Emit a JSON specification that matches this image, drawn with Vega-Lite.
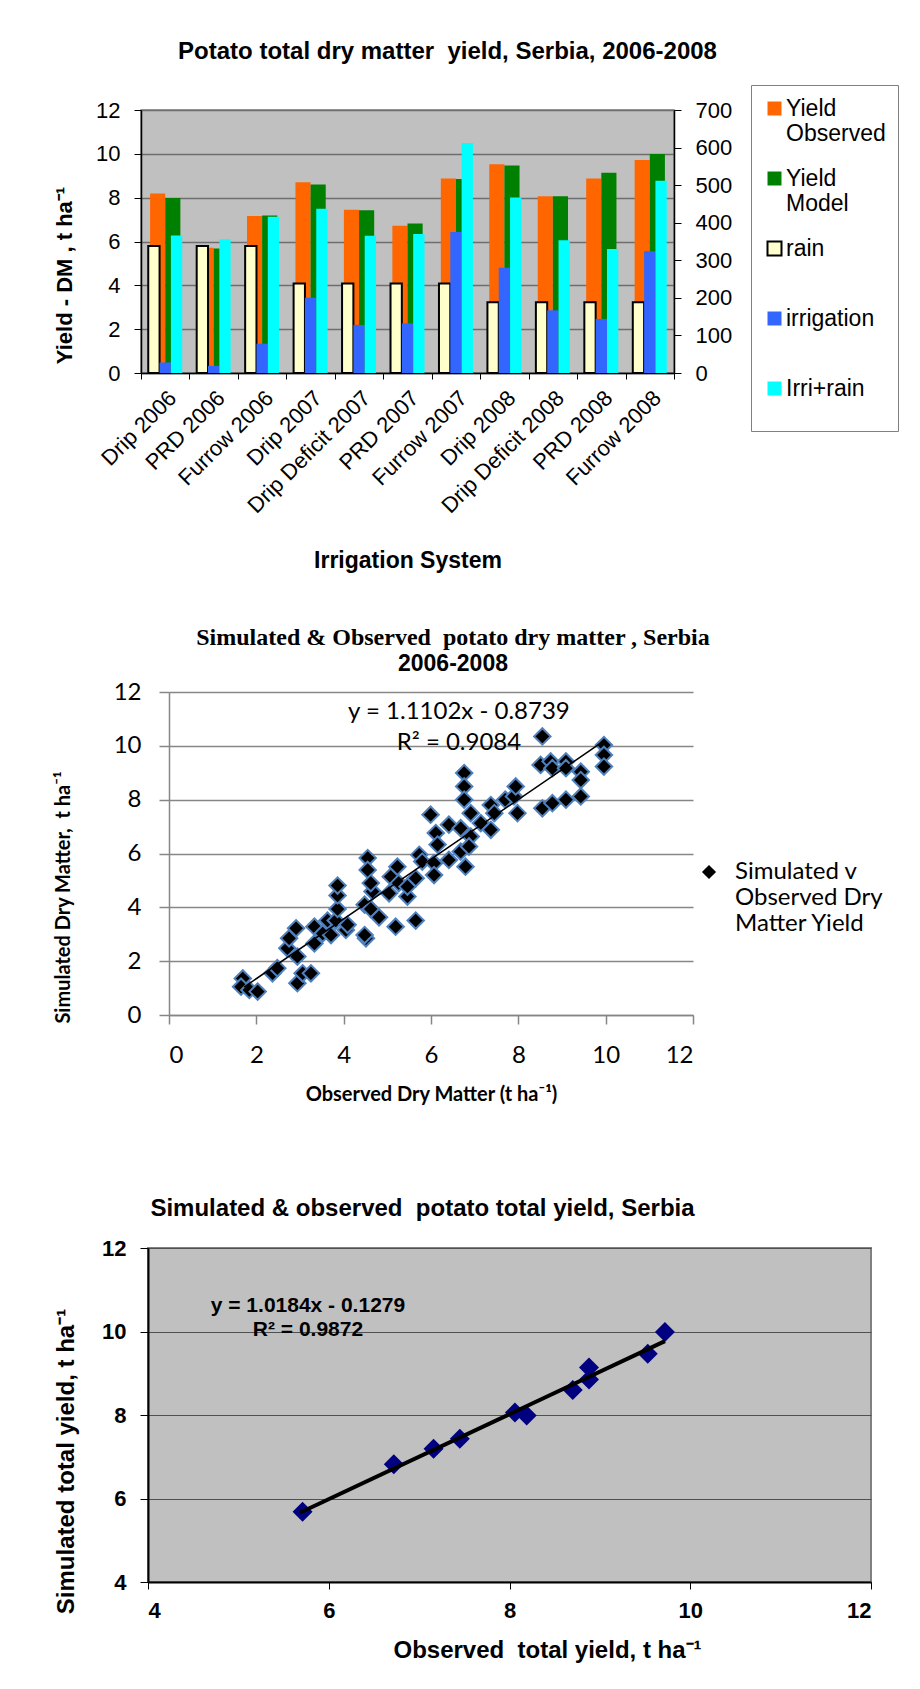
{
  "$schema": "https://vega.github.io/schema/vega-lite/v6.json",
  "background": "white",
  "padding": {"left": 51, "top": 38, "right": 0, "bottom": 0},
  "datasets": {
    "yield": [
      {"system": "Drip 2006", "series": "Yield Observed", "value": 8.19},
      {"system": "Drip 2006", "series": "Yield Model", "value": 7.99},
      {"system": "PRD 2006", "series": "Yield Observed", "value": 5.71},
      {"system": "PRD 2006", "series": "Yield Model", "value": 5.68},
      {"system": "Furrow 2006", "series": "Yield Observed", "value": 7.16},
      {"system": "Furrow 2006", "series": "Yield Model", "value": 7.19},
      {"system": "Drip 2007", "series": "Yield Observed", "value": 8.70},
      {"system": "Drip 2007", "series": "Yield Model", "value": 8.60},
      {"system": "Drip Deficit 2007", "series": "Yield Observed", "value": 7.45},
      {"system": "Drip Deficit 2007", "series": "Yield Model", "value": 7.43},
      {"system": "PRD 2007", "series": "Yield Observed", "value": 6.72},
      {"system": "PRD 2007", "series": "Yield Model", "value": 6.82},
      {"system": "Furrow 2007", "series": "Yield Observed", "value": 8.88},
      {"system": "Furrow 2007", "series": "Yield Model", "value": 8.85},
      {"system": "Drip 2008", "series": "Yield Observed", "value": 9.53},
      {"system": "Drip 2008", "series": "Yield Model", "value": 9.47},
      {"system": "Drip Deficit 2008", "series": "Yield Observed", "value": 8.06},
      {"system": "Drip Deficit 2008", "series": "Yield Model", "value": 8.06},
      {"system": "PRD 2008", "series": "Yield Observed", "value": 8.88},
      {"system": "PRD 2008", "series": "Yield Model", "value": 9.14},
      {"system": "Furrow 2008", "series": "Yield Observed", "value": 9.72},
      {"system": "Furrow 2008", "series": "Yield Model", "value": 9.99}
    ],
    "water": [
      {"system": "Drip 2006", "series": "rain", "value": 338},
      {"system": "Drip 2006", "series": "irrigation", "value": 28},
      {"system": "Drip 2006", "series": "Irri+rain", "value": 366},
      {"system": "PRD 2006", "series": "rain", "value": 338},
      {"system": "PRD 2006", "series": "irrigation", "value": 19},
      {"system": "PRD 2006", "series": "Irri+rain", "value": 356},
      {"system": "Furrow 2006", "series": "rain", "value": 338},
      {"system": "Furrow 2006", "series": "irrigation", "value": 78},
      {"system": "Furrow 2006", "series": "Irri+rain", "value": 416},
      {"system": "Drip 2007", "series": "rain", "value": 238},
      {"system": "Drip 2007", "series": "irrigation", "value": 200},
      {"system": "Drip 2007", "series": "Irri+rain", "value": 437},
      {"system": "Drip Deficit 2007", "series": "rain", "value": 238},
      {"system": "Drip Deficit 2007", "series": "irrigation", "value": 128},
      {"system": "Drip Deficit 2007", "series": "Irri+rain", "value": 365},
      {"system": "PRD 2007", "series": "rain", "value": 238},
      {"system": "PRD 2007", "series": "irrigation", "value": 132},
      {"system": "PRD 2007", "series": "Irri+rain", "value": 370},
      {"system": "Furrow 2007", "series": "rain", "value": 238},
      {"system": "Furrow 2007", "series": "irrigation", "value": 375},
      {"system": "Furrow 2007", "series": "Irri+rain", "value": 612},
      {"system": "Drip 2008", "series": "rain", "value": 188},
      {"system": "Drip 2008", "series": "irrigation", "value": 280},
      {"system": "Drip 2008", "series": "Irri+rain", "value": 467},
      {"system": "Drip Deficit 2008", "series": "rain", "value": 188},
      {"system": "Drip Deficit 2008", "series": "irrigation", "value": 167},
      {"system": "Drip Deficit 2008", "series": "Irri+rain", "value": 353},
      {"system": "PRD 2008", "series": "rain", "value": 188},
      {"system": "PRD 2008", "series": "irrigation", "value": 144},
      {"system": "PRD 2008", "series": "Irri+rain", "value": 330},
      {"system": "Furrow 2008", "series": "rain", "value": 188},
      {"system": "Furrow 2008", "series": "irrigation", "value": 324},
      {"system": "Furrow 2008", "series": "Irri+rain", "value": 512}
    ],
    "dm": [
      {"obs": 1.69, "sim": 1.36}, {"obs": 1.65, "sim": 1.05}, {"obs": 1.84, "sim": 0.93}, {"obs": 2.03, "sim": 0.87},
      {"obs": 2.37, "sim": 1.55}, {"obs": 2.48, "sim": 1.74}, {"obs": 2.71, "sim": 2.48}, {"obs": 2.75, "sim": 2.85},
      {"obs": 2.91, "sim": 3.22}, {"obs": 2.94, "sim": 2.17}, {"obs": 2.94, "sim": 1.18}, {"obs": 3.06, "sim": 1.55},
      {"obs": 3.25, "sim": 1.55}, {"obs": 3.33, "sim": 3.28}, {"obs": 3.33, "sim": 2.66}, {"obs": 3.52, "sim": 3.03},
      {"obs": 3.71, "sim": 2.97}, {"obs": 3.63, "sim": 3.51}, {"obs": 3.82, "sim": 3.51}, {"obs": 3.86, "sim": 3.94},
      {"obs": 3.86, "sim": 4.44}, {"obs": 3.86, "sim": 4.81}, {"obs": 4.05, "sim": 3.16}, {"obs": 4.09, "sim": 3.35},
      {"obs": 4.48, "sim": 4.10}, {"obs": 4.51, "sim": 2.85}, {"obs": 4.48, "sim": 2.97}, {"obs": 4.55, "sim": 5.83},
      {"obs": 4.55, "sim": 5.39}, {"obs": 4.66, "sim": 4.59}, {"obs": 4.62, "sim": 4.90}, {"obs": 4.62, "sim": 3.94},
      {"obs": 4.81, "sim": 3.63}, {"obs": 5.04, "sim": 4.52}, {"obs": 5.08, "sim": 5.14}, {"obs": 5.19, "sim": 3.28},
      {"obs": 5.23, "sim": 5.51}, {"obs": 5.26, "sim": 4.90}, {"obs": 5.46, "sim": 4.40}, {"obs": 5.46, "sim": 4.77},
      {"obs": 5.65, "sim": 5.08}, {"obs": 5.65, "sim": 3.51}, {"obs": 5.73, "sim": 5.95}, {"obs": 5.80, "sim": 5.70},
      {"obs": 5.99, "sim": 7.44}, {"obs": 6.07, "sim": 5.64}, {"obs": 6.07, "sim": 5.20}, {"obs": 6.11, "sim": 6.76},
      {"obs": 6.15, "sim": 6.33}, {"obs": 6.41, "sim": 7.07}, {"obs": 6.41, "sim": 5.76}, {"obs": 6.76, "sim": 8.99},
      {"obs": 6.76, "sim": 8.49}, {"obs": 6.76, "sim": 8.00}, {"obs": 6.68, "sim": 6.94}, {"obs": 6.68, "sim": 6.07},
      {"obs": 6.79, "sim": 5.51}, {"obs": 6.91, "sim": 7.50}, {"obs": 6.91, "sim": 6.63}, {"obs": 6.87, "sim": 6.26},
      {"obs": 7.14, "sim": 7.13}, {"obs": 7.37, "sim": 7.80}, {"obs": 7.37, "sim": 6.88}, {"obs": 7.45, "sim": 7.50},
      {"obs": 7.70, "sim": 8.00}, {"obs": 7.90, "sim": 8.12}, {"obs": 7.94, "sim": 8.49}, {"obs": 7.98, "sim": 7.50},
      {"obs": 8.55, "sim": 10.35}, {"obs": 8.51, "sim": 9.29}, {"obs": 8.74, "sim": 9.42}, {"obs": 8.78, "sim": 9.17},
      {"obs": 9.09, "sim": 9.42}, {"obs": 9.09, "sim": 9.17}, {"obs": 9.43, "sim": 9.04}, {"obs": 9.43, "sim": 8.73},
      {"obs": 8.55, "sim": 7.68}, {"obs": 8.78, "sim": 7.87}, {"obs": 9.09, "sim": 8.00}, {"obs": 9.43, "sim": 8.12},
      {"obs": 9.96, "sim": 10.03}, {"obs": 9.96, "sim": 9.66}, {"obs": 9.96, "sim": 9.23}
    ],
    "dmTrend": [{"obs": 1.72, "sim": 1.04}, {"obs": 9.96, "sim": 10.18}],
    "dmEq": [
      {"obs": 6.64, "sim": 11.26, "text": "y = 1.1102x - 0.8739"},
      {"obs": 6.64, "sim": 10.11, "text": "R² = 0.9084"}
    ],
    "total": [
      {"obs": 5.71, "sim": 5.68}, {"obs": 6.72, "sim": 6.82}, {"obs": 7.16, "sim": 7.19}, {"obs": 7.45, "sim": 7.43},
      {"obs": 8.06, "sim": 8.06}, {"obs": 8.19, "sim": 7.99}, {"obs": 8.70, "sim": 8.60}, {"obs": 8.88, "sim": 8.85},
      {"obs": 8.88, "sim": 9.14}, {"obs": 9.53, "sim": 9.47}, {"obs": 9.72, "sim": 9.99}
    ],
    "totalTrend": [{"obs": 5.68, "sim": 5.66}, {"obs": 9.72, "sim": 9.77}],
    "totalEq": [
      {"obs": 5.77, "sim": 10.61, "text": "y = 1.0184x - 0.1279"},
      {"obs": 5.77, "sim": 10.04, "text": "R² = 0.9872"}
    ]
  },
  "vconcat": [
    {
      "spacing": 53,
      "vconcat": [
        {
          "spacing": 0,
          "hconcat": [
            {"width": 1, "height": 1, "data": {"values": []}, "mark": {"type": "point"}, "view": {"stroke": null}},
            {
              "width": 533,
              "height": 263,
              "title": {"text": "Potato total dry matter \u00a0yield, Serbia, 2006-2008", "font": "Liberation Sans", "fontSize": 24, "fontWeight": "bold", "anchor": "middle", "dx": 40, "offset": 21},
              "view": {"fill": "#c0c0c0", "stroke": "#808080", "strokeWidth": 1.5},
              "layer": [
                {
                  "data": {"name": "yield"},
                  "mark": {"type": "bar"},
                  "encoding": {
                    "x": {
                      "field": "system", "type": "nominal", "sort": null,
                      "scale": {"domain": ["Drip 2006", "PRD 2006", "Furrow 2006", "Drip 2007", "Drip Deficit 2007", "PRD 2007", "Furrow 2007", "Drip 2008", "Drip Deficit 2008", "PRD 2008", "Furrow 2008"], "paddingInner": 0, "paddingOuter": 0},
                      "axis": {"title": "Irrigation System", "titleFontSize": 23, "titleFontWeight": "bold", "titleY": 187, "titleBaseline": "middle", "labelAngle": -45, "labelFontSize": 22, "labelPadding": 8, "tickBand": "extent", "tickSize": 6, "tickColor": "#000000", "domainColor": "#000000", "domainWidth": 1.5, "grid": false}
                    },
                    "xOffset": {"field": "series", "type": "nominal", "scale": {"domain": ["Yield Observed", "Yield Model"], "paddingInner": 0, "paddingOuter": 0.6}},
                    "y": {
                      "field": "value", "type": "quantitative", "scale": {"domain": [0, 12]},
                      "axis": {"orient": "left", "values": [0, 2, 4, 6, 8, 10, 12], "grid": true, "gridColor": "#6e6e6e", "gridWidth": 1.5, "domainColor": "#000000", "domainWidth": 1.5, "tickColor": "#000000", "tickSize": 7, "labelFontSize": 22, "labelPadding": 14, "title": "Yield - DM , t ha⁻¹", "titleFontSize": 22, "titleFontWeight": "bold", "titleX": -77, "titleY": 165, "titleBaseline": "middle", "titleAlign": "center", "titleAngle": -90}
                    },
                    "fill": {
                      "field": "series", "type": "nominal",
                      "scale": {"domain": ["Yield Observed", "Yield Model", "rain", "irrigation", "Irri+rain"], "range": ["#ff6600", "#008000", "#ffffcc", "#3366ff", "#00ffff"]},
                      "legend": {"title": " ", "titleOrient": "bottom", "titleFontSize": 18, "titlePadding": 0, "orient": "none", "legendX": 610, "legendY": -25, "symbolType": "square", "symbolSize": 196, "symbolStrokeWidth": 2, "labelFontSize": 23, "labelFont": "Liberation Sans", "labelOffset": 0, "strokeColor": "#808080", "fillColor": "#ffffff", "padding": 12, "rowPadding": 21, "gridAlign": "all", "labelExpr": "datum.label == 'Yield Observed' ? ['Yield', 'Observed'] : datum.label == 'Yield Model' ? ['Yield', 'Model'] : datum.label"}
                    }
                  }
                },
                {
                  "data": {"name": "water"},
                  "mark": {"type": "bar", "strokeWidth": 2},
                  "encoding": {
                    "x": {
                      "field": "system", "type": "nominal", "sort": null,
                      "scale": {"domain": ["Drip 2006", "PRD 2006", "Furrow 2006", "Drip 2007", "Drip Deficit 2007", "PRD 2007", "Furrow 2007", "Drip 2008", "Drip Deficit 2008", "PRD 2008", "Furrow 2008"], "paddingInner": 0, "paddingOuter": 0}
                    },
                    "xOffset": {"field": "series", "type": "nominal", "scale": {"domain": ["rain", "irrigation", "Irri+rain"], "paddingInner": 0, "paddingOuter": 0.64}},
                    "y": {
                      "field": "value", "type": "quantitative", "scale": {"domain": [0, 700]},
                      "axis": {"orient": "right", "values": [0, 100, 200, 300, 400, 500, 600, 700], "grid": false, "domainColor": "#000000", "domainWidth": 1.5, "tickColor": "#000000", "tickSize": 7, "labelFontSize": 22, "labelPadding": 14, "title": null}
                    },
                    "fill": {
                      "field": "series", "type": "nominal",
                      "scale": {"domain": ["Yield Observed", "Yield Model", "rain", "irrigation", "Irri+rain"], "range": ["#ff6600", "#008000", "#ffffcc", "#3366ff", "#00ffff"]},
                      "legend": {"title": " ", "titleOrient": "bottom", "titleFontSize": 18, "titlePadding": 0, "orient": "none", "legendX": 610, "legendY": -25, "symbolType": "square", "symbolSize": 196, "symbolStrokeWidth": 2, "labelFontSize": 23, "labelFont": "Liberation Sans", "labelOffset": 0, "strokeColor": "#808080", "fillColor": "#ffffff", "padding": 12, "rowPadding": 21, "gridAlign": "all", "labelExpr": "datum.label == 'Yield Observed' ? ['Yield', 'Observed'] : datum.label == 'Yield Model' ? ['Yield', 'Model'] : datum.label"}
                    },
                    "stroke": {
                      "field": "series", "type": "nominal",
                      "scale": {"domain": ["Yield Observed", "Yield Model", "rain", "irrigation", "Irri+rain"], "range": ["transparent", "transparent", "#000000", "transparent", "transparent"]},
                      "legend": {"title": " ", "titleOrient": "bottom", "titleFontSize": 18, "titlePadding": 0, "orient": "none", "legendX": 610, "legendY": -25, "symbolType": "square", "symbolSize": 196, "symbolStrokeWidth": 2, "labelFontSize": 23, "labelFont": "Liberation Sans", "labelOffset": 0, "strokeColor": "#808080", "fillColor": "#ffffff", "padding": 12, "rowPadding": 21, "gridAlign": "all", "labelExpr": "datum.label == 'Yield Observed' ? ['Yield', 'Observed'] : datum.label == 'Yield Model' ? ['Yield', 'Model'] : datum.label"}
                    }
                  }
                }
              ],
              "resolve": {"scale": {"y": "independent", "xOffset": "independent"}}
            }
          ],
          "resolve": {"scale": {"fill": "independent", "stroke": "independent", "shape": "independent"}, "legend": {"fill": "independent", "stroke": "independent", "shape": "independent"}}
        },
        {
          "spacing": 0,
          "hconcat": [
            {"width": 1, "height": 1, "data": {"values": []}, "mark": {"type": "point"}, "view": {"stroke": null}},
            {
              "width": 524,
              "height": 323,
              "title": {"text": "Simulated & Observed \u00a0potato dry matter , Serbia", "subtitle": "2006-2008", "font": "Liberation Serif", "fontSize": 24, "fontWeight": "bold", "subtitleFont": "Liberation Sans", "subtitleFontSize": 23, "subtitleFontWeight": "bold", "subtitleColor": "#000000", "subtitlePadding": 3, "anchor": "middle", "dx": 22, "offset": 4},
              "view": {"stroke": null},
              "layer": [
                {
                  "data": {"name": "dm"},
                  "mark": {"type": "point", "shape": "diamond", "filled": true, "fill": "#000000", "stroke": "#4f81bd", "strokeWidth": 2, "size": 270, "opacity": 1},
                  "encoding": {
                    "x": {
                      "field": "obs", "type": "quantitative", "scale": {"domain": [0, 12]},
                      "axis": {"values": [0, 2, 4, 6, 8, 10, 12], "format": "d", "grid": false, "domainColor": "#868686", "domainWidth": 1.5, "tickColor": "#868686", "tickWidth": 1.5, "tickSize": 9, "labelFont": "Lato", "labelFontSize": 24, "labelPadding": 19, "title": "Observed Dry Matter (t ha⁻¹)", "titleFont": "Lato", "titleFontSize": 20, "titleFontWeight": "bold", "titleY": 79, "titleBaseline": "middle"}
                    },
                    "y": {
                      "field": "sim", "type": "quantitative", "scale": {"domain": [0, 12]},
                      "axis": {"values": [0, 2, 4, 6, 8, 10, 12], "format": "d", "grid": true, "gridColor": "#868686", "gridWidth": 1.5, "domainColor": "#868686", "domainWidth": 1.5, "tickColor": "#868686", "tickWidth": 1.5, "tickSize": 10, "labelFont": "Lato", "labelFontSize": 24, "labelPadding": 18, "title": "Simulated Dry Matter, \u00a0t ha⁻¹", "titleFont": "Lato", "titleFontSize": 20, "titleFontWeight": "bold", "titleX": -106, "titleY": 205, "titleBaseline": "middle", "titleAlign": "center", "titleAngle": -90}
                    },
                    "shape": {
                      "datum": "Simulated v Observed Dry Matter Yield", "type": "nominal",
                      "scale": {"range": ["diamond"]},
                      "legend": {"title": null, "orient": "none", "legendX": 528, "legendY": 168, "symbolFillColor": "#000000", "symbolStrokeColor": "#4f81bd", "symbolStrokeWidth": 2, "symbolSize": 200, "labelFont": "Lato", "labelFontSize": 24, "labelOffset": 14, "padding": 0, "labelExpr": "['Simulated v', 'Observed Dry', 'Matter Yield']"}
                    }
                  }
                },
                {
                  "data": {"name": "dmTrend"},
                  "mark": {"type": "line", "color": "#000000", "strokeWidth": 1.5},
                  "encoding": {
                    "x": {"field": "obs", "type": "quantitative"},
                    "y": {"field": "sim", "type": "quantitative"}
                  }
                },
                {
                  "data": {"name": "dmEq"},
                  "mark": {"type": "text", "font": "Lato", "fontSize": 24, "color": "#000000"},
                  "encoding": {
                    "x": {"field": "obs", "type": "quantitative"},
                    "y": {"field": "sim", "type": "quantitative"},
                    "text": {"field": "text"}
                  }
                }
              ]
            }
          ],
          "resolve": {"scale": {"fill": "independent", "stroke": "independent", "shape": "independent"}, "legend": {"fill": "independent", "stroke": "independent", "shape": "independent"}}
        }
      ],
      "resolve": {"scale": {"fill": "independent", "stroke": "independent", "shape": "independent"}, "legend": {"fill": "independent", "stroke": "independent", "shape": "independent"}}
    },
    {
      "spacing": 0,
      "hconcat": [
        {"width": 1, "height": 1, "data": {"values": []}, "mark": {"type": "point"}, "view": {"stroke": null}},
        {
          "width": 723,
          "height": 334,
          "title": {"text": "Simulated & observed \u00a0potato total yield, Serbia", "font": "Liberation Sans", "fontSize": 24, "fontWeight": "bold", "anchor": "middle", "dx": -87, "offset": 16},
          "view": {"fill": "#c0c0c0", "stroke": "#808080", "strokeWidth": 2},
          "layer": [
            {
              "data": {"name": "total"},
              "mark": {"type": "point", "shape": "diamond", "filled": true, "color": "#000080", "size": 400, "opacity": 1},
              "encoding": {
                "x": {
                  "field": "obs", "type": "quantitative", "scale": {"domain": [4, 12]},
                  "axis": {"values": [4, 6, 8, 10, 12], "format": "d", "grid": false, "domainColor": "#000000", "domainWidth": 2, "tickColor": "#000000", "tickSize": 7, "labelFontSize": 22, "labelFontWeight": "bold", "labelPadding": 11, "title": "Observed \u00a0total yield, t ha⁻¹", "titleFontSize": 24, "titleFontWeight": "bold", "titleX": 399, "titleY": 68, "titleBaseline": "middle"}
                },
                "y": {
                  "field": "sim", "type": "quantitative", "scale": {"domain": [4, 12]},
                  "axis": {"values": [4, 6, 8, 10, 12], "format": "d", "grid": true, "gridColor": "#505050", "gridWidth": 1, "domainColor": "#000000", "domainWidth": 2, "tickColor": "#000000", "tickSize": 8, "labelFontSize": 22, "labelFontWeight": "bold", "labelPadding": 14, "title": "Simulated total yield, t ha⁻¹", "titleFontSize": 24, "titleFontWeight": "bold", "titleX": -82, "titleY": 213, "titleBaseline": "middle", "titleAlign": "center", "titleAngle": -90}
                }
              }
            },
            {
              "data": {"name": "totalTrend"},
              "mark": {"type": "line", "color": "#000000", "strokeWidth": 4},
              "encoding": {
                "x": {"field": "obs", "type": "quantitative"},
                "y": {"field": "sim", "type": "quantitative"}
              }
            },
            {
              "data": {"name": "totalEq"},
              "mark": {"type": "text", "font": "Liberation Sans", "fontSize": 21, "fontWeight": "bold", "color": "#000000"},
              "encoding": {
                "x": {"field": "obs", "type": "quantitative"},
                "y": {"field": "sim", "type": "quantitative"},
                "text": {"field": "text"}
              }
            }
          ]
        }
      ],
      "resolve": {"scale": {"fill": "independent", "stroke": "independent", "shape": "independent"}, "legend": {"fill": "independent", "stroke": "independent", "shape": "independent"}}
    }
  ],
  "spacing": 92,
  "resolve": {"scale": {"fill": "independent", "stroke": "independent", "shape": "independent"}, "legend": {"fill": "independent", "stroke": "independent", "shape": "independent"}},
  "config": {
    "font": "Liberation Sans",
    "axis": {"labelColor": "#000000", "titleColor": "#000000", "labelFont": "Liberation Sans", "titleFont": "Liberation Sans"},
    "title": {"color": "#000000"},
    "legend": {"labelColor": "#000000", "labelLimit": 400}
  }
}
